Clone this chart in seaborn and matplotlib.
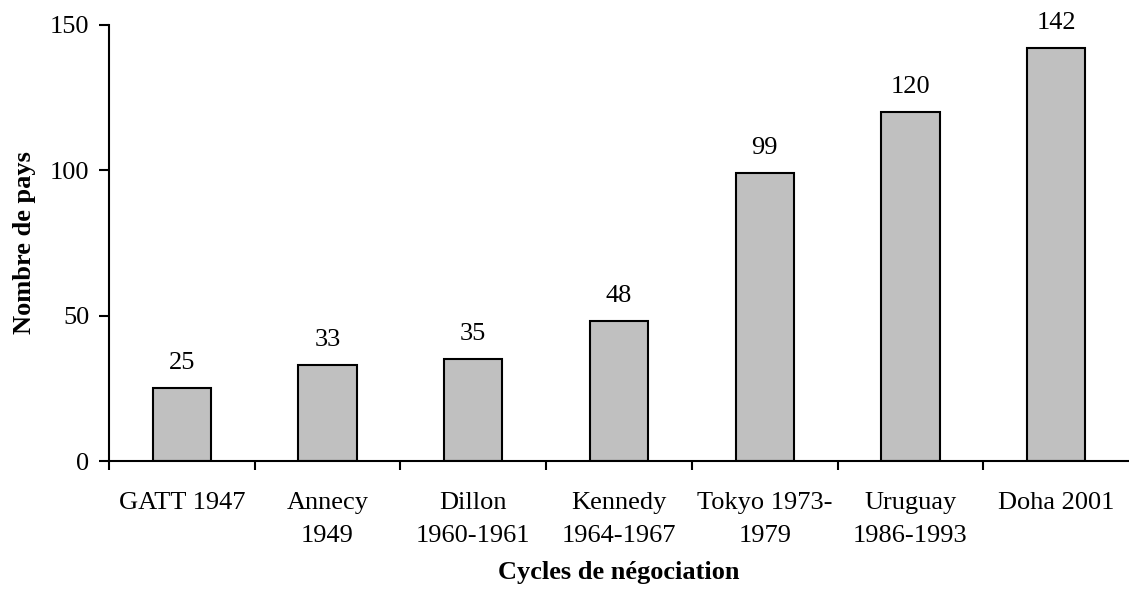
import matplotlib
matplotlib.use("Agg")
import matplotlib.pyplot as plt
import seaborn as sns
import pandas as pd
import numpy as np

categories = ["GATT 1947", "Annecy\n1949", "Dillon\n1960-1961", "Kennedy\n1964-1967",
              "Tokyo 1973-\n1979", "Uruguay\n1986-1993", "Doha 2001"]
nb_pays = [25, 33, 35, 48, 99, 120, 142]
y_ticks = [0, 50, 100, 150]

sns.set_theme(style="white")
plt.rcParams['font.family'] = ['Liberation Serif', 'DejaVu Serif']
plt.rcParams['text.color'] = 'black'
plt.rcParams['axes.labelcolor'] = 'black'
plt.rcParams['xtick.color'] = 'black'
plt.rcParams['ytick.color'] = 'black'

FS = 19

df = pd.DataFrame({"cycle": categories, "pays": nb_pays})

fig = plt.figure(figsize=(11.29, 5.95), dpi=100)
ax = fig.add_axes([0.0965, 0.2252, 0.9035, 0.733])

sns.barplot(data=df, x="cycle", y="pays", color="#c0c0c0", edgecolor="black",
            linewidth=1.5, width=0.4, saturation=1, ax=ax)

# value labels above each bar
for i, v in enumerate(nb_pays):
    ax.text(i, v + 4.8, str(v), ha="center", va="bottom", fontsize=FS)

ax.set_xlim(-0.5, len(categories) - 0.5)
ax.set_ylim(0, 150)
ax.set_yticks(y_ticks)

# tick marks between categories, labels centered under bars
ax.set_xticks(range(len(categories)))
ax.set_xticklabels(categories, linespacing=1.65)
ax.set_xticks(np.arange(-0.5, len(categories) - 0.5, 1.0), minor=True)
ax.tick_params(axis="x", which="major", length=0, pad=22, labelsize=FS)
ax.tick_params(axis="x", which="minor", length=6.5, width=1.5, direction="out", bottom=True)
ax.tick_params(axis="y", length=7, width=1.5, direction="out", left=True, labelsize=FS, pad=7)

for s in ["top", "right"]:
    ax.spines[s].set_visible(False)
for s in ["left", "bottom"]:
    ax.spines[s].set_color("black")
    ax.spines[s].set_linewidth(1.5)

ax.set_xlabel("Cycles de négociation", fontsize=FS, fontweight="bold", labelpad=10.5)
ax.set_ylabel("Nombre de pays", fontsize=FS, fontweight="bold", labelpad=10)

fig.savefig("out.png", dpi=100)
